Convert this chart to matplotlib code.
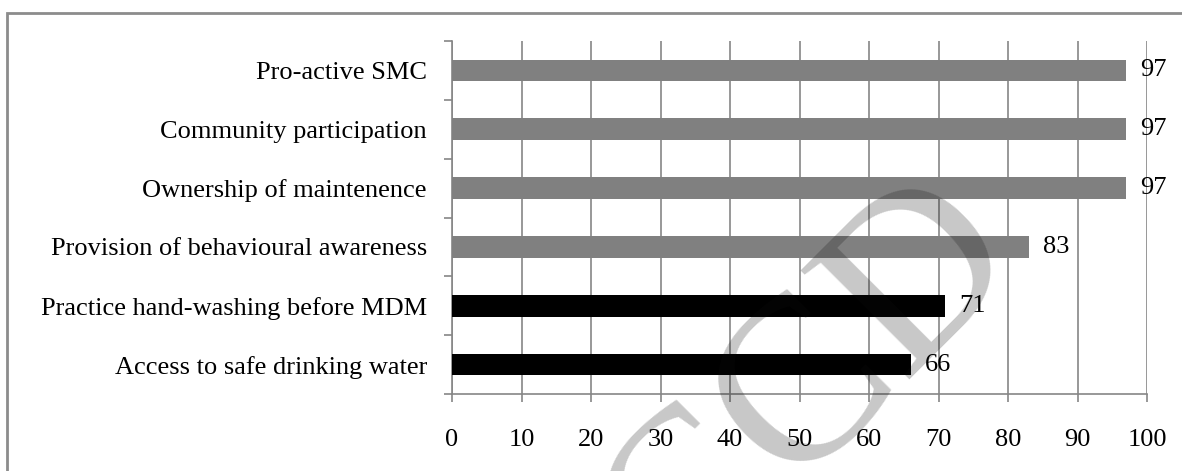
import matplotlib.pyplot as plt
import matplotlib.patches as patches

categories = ['Access to safe drinking water',
              'Practice hand-washing before MDM',
              'Provision of behavioural awareness',
              'Ownership of maintenence',
              'Community participation',
              'Pro-active SMC']
values = [66, 71, 83, 97, 97, 97]
bar_colors = ['#000000', '#000000', '#808080', '#808080', '#808080', '#808080']
x_ticks = list(range(0, 101, 10))

W, H = 1182, 471


def draw_chart():
    plt.rcParams['font.family'] = ['Liberation Serif', 'DejaVu Serif']
    fig = plt.figure(figsize=(W / 100, H / 100), dpi=100)
    ax = fig.add_axes([452 / W, 1 - 394 / H, (1147 - 452) / W, (394 - 41) / H])

    pos = range(len(categories))
    ax.barh(pos, values, height=0.37, color=bar_colors, zorder=3)
    for p, v in zip(pos, values):
        ax.text(v + 2.0, p, str(v), va='center', ha='left', fontsize=19, zorder=4)

    ax.set_xlim(0, 100)
    ax.set_ylim(-0.5, len(categories) - 0.5)
    ax.set_xticks(x_ticks)
    ax.set_xticklabels([str(t) for t in x_ticks], fontsize=19)
    ax.set_yticks(list(pos))
    ax.set_yticklabels(categories, fontsize=19)
    # category boundaries get the tick marks, labels stay centred on the bars
    ax.set_yticks([i - 0.5 for i in range(len(categories) + 1)], minor=True)
    ax.tick_params(axis='y', which='major', length=0, pad=18)
    ax.tick_params(axis='y', which='minor', length=6, color='#868686', width=1.2)
    ax.tick_params(axis='x', length=6, color='#868686', width=1.2, pad=19)

    ax.grid(axis='x', color='#868686', linewidth=1.2, zorder=0)
    for side in ['top', 'right']:
        ax.spines[side].set_visible(False)
    for side in ['left', 'bottom']:
        ax.spines[side].set_color('#868686')
        ax.spines[side].set_linewidth(1.2)

    # outer frame of the chart area
    frame = patches.Rectangle((7 / W, -0.1), 1.2, 1 - 13 / H + 0.1,
                              transform=fig.transFigure, fill=False,
                              edgecolor='#8c8c8c', linewidth=2, zorder=0)
    fig.patches.append(frame)

    # faint watermark across the plot
    fig.text(812 / W, 1 - 388 / H, 'CCD', fontsize=170, color='#111111', alpha=0.23,
             rotation=45, rotation_mode='anchor', ha='center', va='center', zorder=10)

    plt.savefig('out.png', dpi=100)


if __name__ == '__main__':
    draw_chart()
